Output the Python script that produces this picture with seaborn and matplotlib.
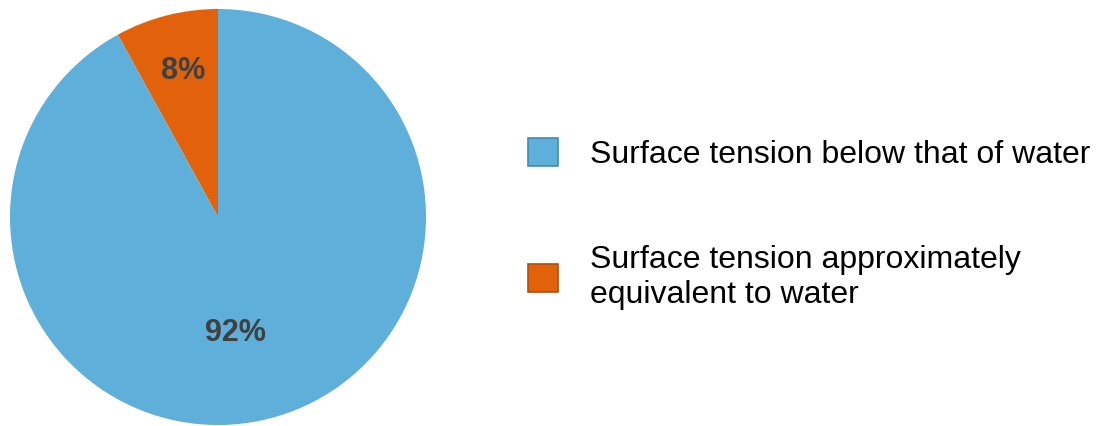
import matplotlib
matplotlib.use("Agg")
import matplotlib.pyplot as plt
import seaborn as sns
from matplotlib.patches import Patch

categories = ["Surface tension below that of water",
              "Surface tension approximately\nequivalent to water"]
values = [92, 8]
colors = ["#5EAFD9", "#E2620C"]
edge_colors = ["#3E8DB0", "#B04F0B"]

sns.set_theme(style="white")
plt.rcParams['font.family'] = ['Liberation Sans', 'DejaVu Sans']

fig = plt.figure(figsize=(10.96, 4.26), dpi=100)
cx, cy, r = 218, 426 - 217, 208
ax = fig.add_axes([(cx - r) / 1096, (cy - r) / 426, 2 * r / 1096, 2 * r / 426])

# draw orange first from top counter-clockwise, then blue
order = [1, 0]
wedges, texts, autotexts = ax.pie(
    [values[i] for i in order],
    colors=[colors[i] for i in order],
    startangle=90, counterclock=True,
    autopct=lambda p: f"{p:.0f}%", pctdistance=0.6,
    wedgeprops=dict(linewidth=0),
    textprops=dict(color="#404040", fontsize=22, fontweight="bold"),
)
autotexts[0].set_position((-0.168, 0.70))
autotexts[1].set_position((0.082, -0.558))
ax.set_xlim(-1, 1)
ax.set_ylim(-1, 1)
ax.set_aspect("auto")
ax.axis("off")

handles = [Patch(facecolor=colors[i], edgecolor=edge_colors[i], linewidth=1.2)
           for i in range(2)]
leg = fig.legend(handles, categories, loc="center left",
                 bbox_to_anchor=(528 / 1096, 1 - 224 / 426),
                 frameon=False, fontsize=23,
                 handlelength=0.94, handleheight=0.94,
                 handletextpad=1.0, labelspacing=2.35,
                 borderpad=0, borderaxespad=0)
for t in leg.get_texts():
    t.set_color("#000000")

fig.savefig("out.png", dpi=100)
